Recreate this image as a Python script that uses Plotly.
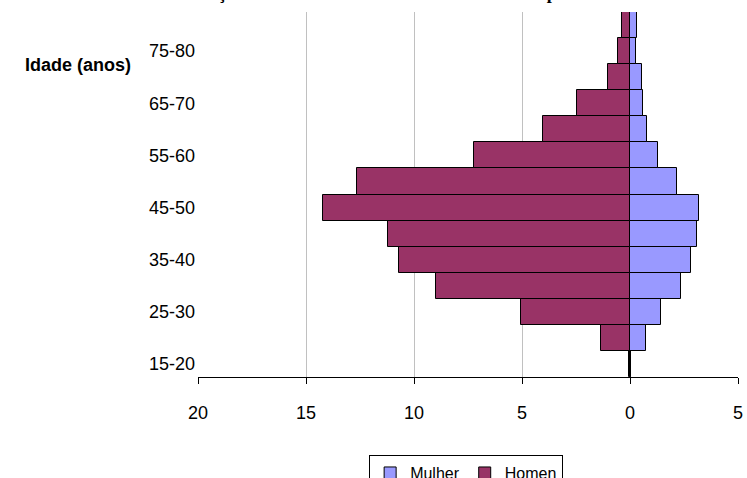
import plotly.graph_objects as go

idades = ["15-20", "20-25", "25-30", "30-35", "35-40", "40-45", "45-50",
          "50-55", "55-60", "60-65", "65-70", "70-75", "75-80", "80-85"]
homen = [0.06, 1.34, 5.03, 8.97, 10.68, 11.19, 14.23, 12.64, 7.21, 4.01, 2.47, 1.03, 0.57, 0.38]
mulher = [0.03, 0.74, 1.45, 2.38, 2.81, 3.12, 3.21, 2.16, 1.31, 0.80, 0.62, 0.54, 0.26, 0.34]
rotulos_y = ["15-20", "25-30", "35-40", "45-50", "55-60", "65-70", "75-80"]
ticks_x = [-20, -15, -10, -5, 0, 5]
ticks_x_txt = ["20", "15", "10", "5", "0", "5"]
titulo = "Distribuição dos trabalhadores ativos entrevistados por sexo e idade"

fig = go.Figure()
fig.add_trace(go.Bar(y=idades, x=mulher, orientation="h", name="Mulher",
                     marker=dict(color="#9999FF", line=dict(color="black", width=1))))
fig.add_trace(go.Bar(y=idades, x=[-v for v in homen], orientation="h", name="Homen",
                     marker=dict(color="#993366", line=dict(color="black", width=1))))

fig.update_layout(
    width=747, height=478,
    margin=dict(l=198, r=9, t=12, b=101, autoexpand=False),
    paper_bgcolor="white", plot_bgcolor="white",
    barmode="relative", bargap=0,
    font=dict(family="Liberation Sans, Arial", size=18, color="black"),
    showlegend=True,
    legend=dict(orientation="h", x=0.624, xanchor="center", xref="container",
                y=0.048, yanchor="top", yref="container",
                bordercolor="black", borderwidth=1, font=dict(size=16),
                itemwidth=30, tracegroupgap=0),
)
fig.update_xaxes(range=[-20, 5], tickvals=ticks_x, ticktext=ticks_x_txt,
                 showgrid=True, gridcolor="#c0c0c0", gridwidth=1,
                 zeroline=True, zerolinecolor="black", zerolinewidth=2,
                 showline=True, linecolor="black", linewidth=1,
                 ticks="outside", ticklen=6, tickcolor="black",
                 ticklabelstandoff=13, fixedrange=True)
fig.update_yaxes(categoryorder="array", categoryarray=idades,
                 tickvals=rotulos_y, ticktext=rotulos_y,
                 showgrid=False, zeroline=False, showline=False,
                 ticks="", ticklabelstandoff=2, fixedrange=True)

fig.add_annotation(text="<b>Idade (anos)</b>", xref="paper", yref="paper",
                   x=0, y=0.855, xanchor="right", yanchor="middle", xshift=-65,
                   showarrow=False, font=dict(size=18, family="Liberation Sans, Arial"))
fig.add_annotation(text="<b>" + titulo + "</b>", xref="paper", yref="paper",
                   x=0.391, y=1, xanchor="center", yanchor="bottom", yshift=7,
                   showarrow=False, font=dict(size=18, family="Liberation Serif, Times New Roman"))

fig.write_html("out.html", config={"displayModeBar": False},
               post_script="document.body.style.margin='0';")
